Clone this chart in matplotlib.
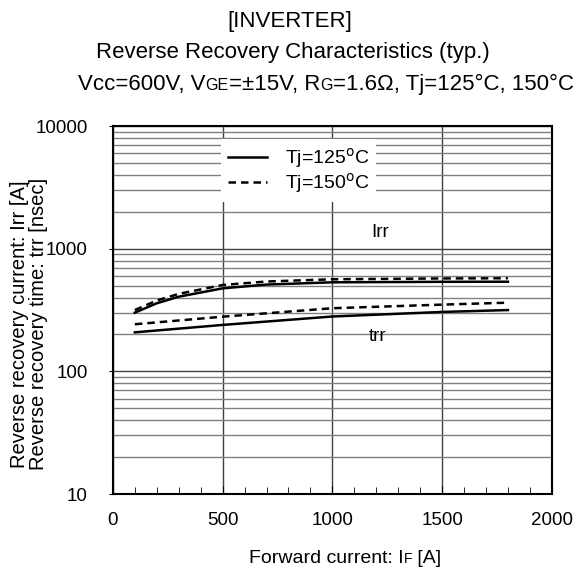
import numpy as np
import matplotlib
matplotlib.use("Agg")
import matplotlib.pyplot as plt
from matplotlib.ticker import MultipleLocator, LogLocator, NullFormatter, FixedLocator

plt.rcParams['font.family'] = ['Liberation Sans', 'DejaVu Sans']

# forward current IF [A]
i_f = [100, 200, 300, 500, 700, 1000, 1500, 1800]
irr_125 = [301, 359, 406, 475, 510, 532, 537, 538]
irr_150 = [316, 378, 428, 506, 540, 563, 572, 574]

i_f_t = [100, 500, 1000, 1500, 1800]
trr_125 = [208, 239, 280, 305, 316]
trr_150 = [242, 279, 327, 350, 363]

y_ticks = [10, 100, 1000, 10000]
y_tick_labels = ['10', '100', '1000', '10000']

fig = plt.figure(figsize=(5.76, 5.69), dpi=100)
ax = fig.add_axes([0.196, 0.1318, 0.762, 0.6467])

ax.set_yscale('log')
ax.set_xlim(0, 2000)
ax.set_ylim(10, 10000)

# grid
ax.set_axisbelow(True)
ax.xaxis.set_major_locator(MultipleLocator(500))
ax.xaxis.set_minor_locator(MultipleLocator(100))
ax.yaxis.set_major_locator(FixedLocator(y_ticks))
ax.set_yticklabels(y_tick_labels)
ax.yaxis.set_minor_locator(LogLocator(base=10, subs=range(2, 10)))
ax.yaxis.set_minor_formatter(NullFormatter())
ax.grid(which='major', axis='both', color='#404040', linewidth=1.0)
ax.grid(which='minor', axis='y', color='#808080', linewidth=1.0)
ax.grid(which='minor', axis='x', visible=False)

ax.tick_params(axis='x', which='both', direction='in', top=False, labelsize=13.5, pad=13)
ax.tick_params(axis='x', which='major', length=6)
ax.tick_params(axis='x', which='minor', length=5)
ax.tick_params(axis='y', which='major', direction='out', length=3, labelsize=13.5, pad=15)
ax.tick_params(axis='y', which='minor', length=0)
for s in ax.spines.values():
    s.set_linewidth(1.5)

l1, = ax.plot(i_f, irr_125, color='black', linewidth=1.8, label='Tj=125$^{\\mathrm{o}}$C')
l2, = ax.plot(i_f, irr_150, color='black', linewidth=1.8, linestyle=(0, (3, 2)), label='Tj=150$^{\\mathrm{o}}$C')
ax.plot(i_f_t, trr_125, color='black', linewidth=1.8)
ax.plot(i_f_t, trr_150, color='black', linewidth=1.8, linestyle=(0, (3, 2)))

ax.text(1218, 1343, 'Irr', fontsize=13.5, ha='center', va='center')
ax.text(1205, 192, 'trr', fontsize=13.5, ha='center', va='center')

leg = ax.legend(handles=[l1, l2], loc='upper left', bbox_to_anchor=(0.225, 0.99),
                fontsize=14, frameon=True, fancybox=False, framealpha=1,
                edgecolor='none', facecolor='white', handlelength=2.0,
                handletextpad=0.9, borderpad=0.35, labelspacing=0.05)

# y label, two lines
fig.text(29 / 576, 1 - 324 / 569,
         'Reverse recovery current: Irr [A]\nReverse recovery time: trr [nsec]',
         fontsize=14.5, rotation=90, ha='center', va='center', linespacing=0.95,
         multialignment='center')

# text made of pieces with smaller subscript-like parts
fig.canvas.draw()
renderer = fig.canvas.get_renderer()
W, H = fig.bbox.width, fig.bbox.height


def piece_line(parts, x_center_px, y_base_px):
    objs = []
    for txt, size in parts:
        t = fig.text(0, 0, txt, fontsize=size, va='baseline', ha='left',
                     transform=None)
        objs.append(t)
    widths = [o.get_window_extent(renderer).width for o in objs]
    x = x_center_px - sum(widths) / 2
    for o, w in zip(objs, widths):
        o.set_position((x, H - y_base_px))
        x += w


piece_line([('[INVERTER]', 16)], 290, 27)
piece_line([('Reverse Recovery Characteristics (typ.)', 16)], 293, 58)
piece_line([('Vcc=600V, V', 16), ('GE', 11.5), ('=±15V, R', 16), ('G', 11.5),
            ('=1.6Ω, Tj=125°C, 150°C', 16)], 326, 90)
piece_line([('Forward current: I', 14), ('F', 10), (' [A]', 14)], 345, 563)

fig.savefig('out.png', dpi=100)
